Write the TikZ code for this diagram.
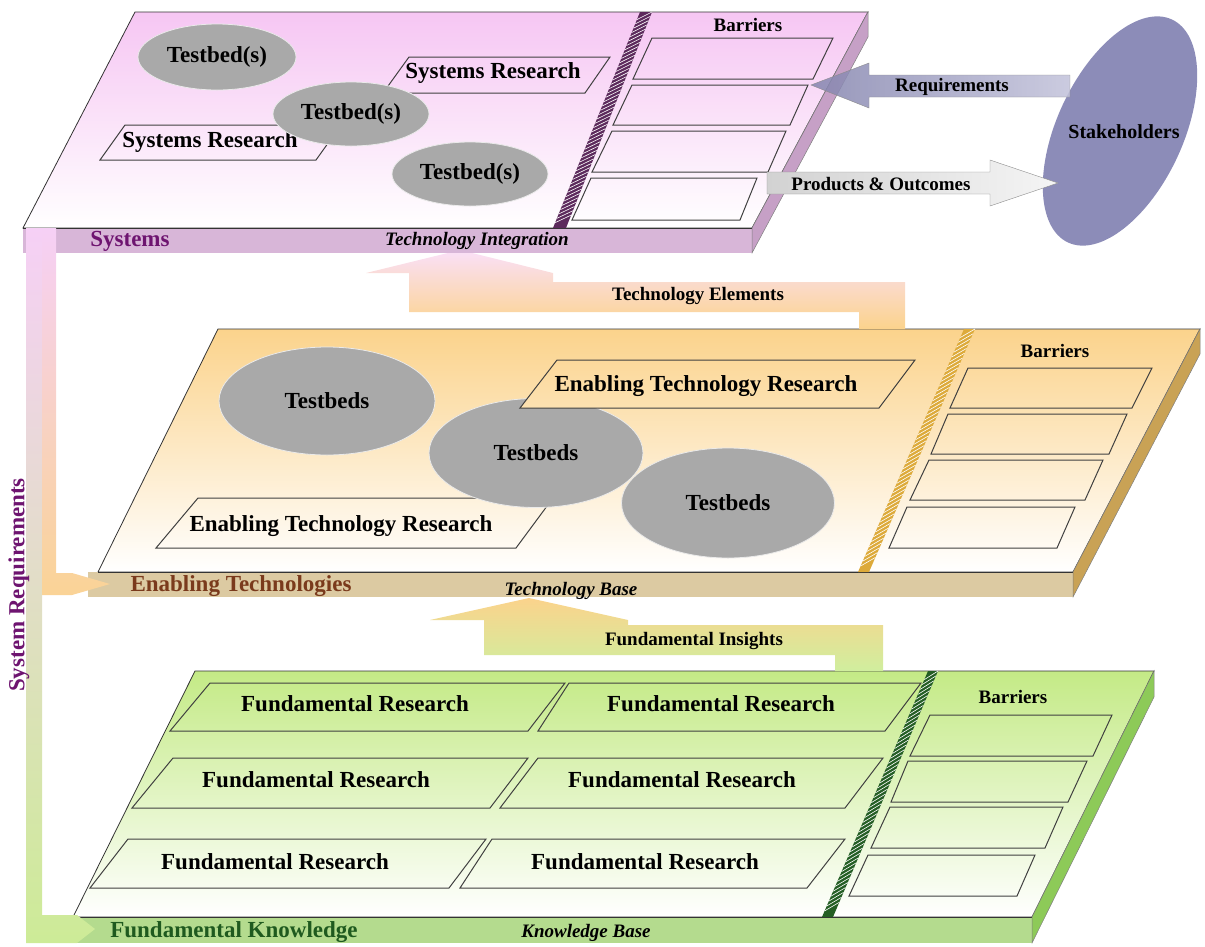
\documentclass[tikz,border=0pt]{standalone}
\usepackage{fontspec}
\setmainfont{Liberation Serif}
\usetikzlibrary{shapes.geometric,calc}

\definecolor{sysTop}{HTML}{F6C6F3}
\definecolor{sysBar}{HTML}{D8B6D8}
\definecolor{sysSide}{HTML}{C6A0C6}
\definecolor{sysHatch}{HTML}{5C2A5C}
\definecolor{sysText}{HTML}{6E1470}
\definecolor{enTop}{HTML}{FBD38C}
\definecolor{enBar}{HTML}{DCCAA2}
\definecolor{enSide}{HTML}{C9A255}
\definecolor{enHatch}{HTML}{DDAA3A}
\definecolor{enText}{HTML}{7A3A1C}
\definecolor{fuTop}{HTML}{C4EA86}
\definecolor{fuBar}{HTML}{B4DB8E}
\definecolor{fuSide}{HTML}{8DCA58}
\definecolor{fuHatch}{HTML}{245E24}
\definecolor{fuText}{HTML}{1F5A1F}
\definecolor{tbGray}{HTML}{A9A9A9}
\definecolor{stakeBlue}{HTML}{8C8CB8}
\definecolor{reqDark}{HTML}{8484AE}
\definecolor{reqLight}{HTML}{C2C2DA}
\definecolor{prodGray}{HTML}{D2D2D2}
\definecolor{srPink}{HTML}{F6D0F6}
\definecolor{srMid}{HTML}{EED8EC}
\definecolor{srGreen}{HTML}{CDEB97}
\definecolor{srOrange}{HTML}{FAD396}

% striped divider between research area and barriers
\newcommand\hatchstrip[5]{%
  \fill[#5] #1 -- #2 -- #4 -- #3 -- cycle;
  \foreach \s [evaluate=\s as \r using \s+0.035] in {0,0.02,...,0.96}
    \draw[white, line width=0.6pt] ($#1!\r!#3$) -- ($#2!\s!#4$);
}

\begin{document}
\begin{tikzpicture}[x=1pt, y=-1pt,
    face/.style = {draw=black!80, line width=0.8pt},
    boxline/.style = {draw=black!75, line width=1pt},
    bigtxt/.style = {font=\fontsize{23}{25}\selectfont\bfseries, inner sep=0pt},
    smalltxt/.style = {font=\fontsize{19}{21}\selectfont\bfseries, inner sep=0pt},
    arrowtxt/.style = {font=\fontsize{19}{21}\selectfont\bfseries, inner sep=0pt},
    basetxt/.style = {font=\fontsize{19}{21}\selectfont\bfseries\itshape, inner sep=0pt},
    layertxt/.style = {font=\fontsize{23}{25}\selectfont\bfseries, inner sep=0pt},
    testbed/.style = {ellipse, fill=tbGray, draw=white!75!tbGray, line width=0.8pt,
                      font=\fontsize{23}{25}\selectfont\bfseries, inner sep=0pt}]
\useasboundingbox (0,0) rectangle (1205,946);

% fundamental knowledge layer
\shade[face, top color=fuTop, bottom color=white] (195,671) -- (1154,671) -- (1032,917) -- (73,917) -- cycle;
\fill[fuBar] (73,917) rectangle (1032,943);
\draw[face] (73,917) -- (1032,917);
\filldraw[fuSide, draw=black!50, line width=0.5pt] (1154,671) -- (1154,697) -- (1032,943) -- (1032,917) -- cycle;
\hatchstrip{(928,671)}{(938,671)}{(822,917)}{(833,917)}{fuHatch}
\foreach \ya/\yb/\a/\b/\c/\d in {715/756/930/1112/1093/910, 761/802/908/1087/1068/891,
                                 807/848/890/1063/1045/871, 855/896/868/1035/1017/849}
  \draw[boxline] (\a,\ya) -- (\b,\ya) -- (\c,\yb) -- (\d,\yb) -- cycle;
\foreach \ya/\yb/\a/\b/\c/\d in {683/731/210/565/528/170, 683/731/569/921/885/538,
                                 758/808/173/528/490/132, 758/808/538/883/845/500,
                                 839/888/128/486/449/90, 839/888/492/845/807/460}
  \draw[boxline] (\a,\ya) -- (\b,\ya) -- (\c,\yb) -- (\d,\yb) -- cycle;
\node[bigtxt] (fr1) at (355,704) {Fundamental Research};
\node[bigtxt] (fr2) at (721,704) {Fundamental Research};
\node[bigtxt] (fr3) at (316,780) {Fundamental Research};
\node[bigtxt] (fr4) at (682,780) {Fundamental Research};
\node[bigtxt] (fr5) at (275,862) {Fundamental Research};
\node[bigtxt] (fr6) at (645,862) {Fundamental Research};
\node[smalltxt] (bar3) at (1013,697) {Barriers};
\node[layertxt, text=fuText] (fk) at (234,932) {Fundamental Knowledge};
\node[basetxt] (kb) at (586,933) {Knowledge Base};

% fundamental insights
\shade[top color=enTop, bottom color=fuTop!80!white] (484,655) -- (484,620) -- (430,620) -- (529,598)
  -- (628,620) -- (628,625) -- (883,625) -- (883,671) -- (835,671) -- (835,655) -- cycle;
\node[arrowtxt] (fi) at (694,641) {Fundamental Insights};

% enabling technologies layer
\shade[face, top color=enTop, bottom color=white] (218,329) -- (1200,329) -- (1073,572) -- (98,572) -- cycle;
\fill[enBar] (88,572) rectangle (1073,597);
\draw[face] (98,572) -- (1073,572);
\filldraw[enSide, draw=black!50, line width=0.5pt] (1200,329) -- (1200,354) -- (1073,597) -- (1073,572) -- cycle;
\hatchstrip{(964,329)}{(975,329)}{(858,572)}{(869,572)}{enHatch}
\foreach \ya/\yb/\a/\b/\c/\d in {368/408/968/1152/1132/950, 414/454/948/1127/1109/931,
                                 460/500/929/1103/1085/910, 507/548/907/1075/1057/889}
  \draw[boxline] (\a,\ya) -- (\b,\ya) -- (\c,\yb) -- (\d,\yb) -- cycle;
\node[smalltxt] (bar2) at (1055,351) {Barriers};
\node[testbed, minimum width=216, minimum height=108] (tb4) at (327,401) {Testbeds};
\draw[boxline] (198,498) -- (553,498) -- (516,548) -- (156,548) -- cycle;
\node[bigtxt] (etr2) at (341,526) {Enabling Technology Research};
\node[testbed, minimum width=214, minimum height=109] (tb5) at (536,453) {Testbeds};
\begin{scope}
  \clip (557,360) -- (915,360) -- (879,408) -- (520,408) -- cycle;
  \shade[top color=enTop, bottom color=white] (218,329) -- (1200,329) -- (1073,572) -- (98,572) -- cycle;
\end{scope}
\draw[boxline] (557,360) -- (915,360) -- (879,408) -- (520,408) -- cycle;
\node[bigtxt] (etr1) at (706,386) {Enabling Technology Research};
\node[testbed, minimum width=213, minimum height=110] (tb6) at (728,503) {Testbeds};
\node[layertxt, text=enText] (et) at (241,586) {Enabling Technologies};
\node[basetxt] (tbase) at (571,591) {Technology Base};

% technology elements
\shade[top color=sysTop!55!white, bottom color=enTop] (409,312) -- (409,273) -- (366,273) -- (460,250)
  -- (553,273) -- (553,282) -- (905,282) -- (905,329) -- (859,329) -- (859,312) -- cycle;
\node[arrowtxt] (te) at (698,296) {Technology Elements};

% systems layer
\shade[face, top color=sysTop, bottom color=white] (135,12) -- (868,12) -- (752,228) -- (23,228) -- cycle;
\fill[sysBar] (23,228) rectangle (752,253);
\draw[face] (23,228) -- (752,228);
\filldraw[sysSide, draw=black!50, line width=0.5pt] (868,12) -- (868,37) -- (752,253) -- (752,228) -- cycle;
\hatchstrip{(640,12)}{(652,12)}{(553,228)}{(566,228)}{sysHatch}
\foreach \ya/\yb/\a/\b/\c/\d in {38/79/652/833/813/633, 85/125/632/808/790/613,
                                 131/172/612/786/768/592, 178/220/591/757/740/572}
  \draw[boxline] (\a,\ya) -- (\b,\ya) -- (\c,\yb) -- (\d,\yb) -- cycle;
\node[smalltxt] (bar1) at (748,25) {Barriers};
\draw[boxline] (409,57) -- (610,57) -- (585,93) -- (383,93) -- cycle;
\node[bigtxt] (sr1) at (493,73) {Systems Research};
\draw[boxline] (125,125) -- (341,125) -- (316,160) -- (100,160) -- cycle;
\node[bigtxt] (sr2) at (210,142) {Systems Research};
\node[testbed, minimum width=158, minimum height=66] (tb1) at (217,57) {Testbed(s)};
\node[testbed, minimum width=156, minimum height=64] (tb2) at (351,114) {Testbed(s)};
\node[testbed, minimum width=156, minimum height=64] (tb3) at (470,174) {Testbed(s)};
\node[layertxt, text=sysText] (sys) at (130,241) {Systems};
\node[basetxt] (ti) at (477,241) {Technology Integration};

% stakeholders and their arrows
\node[ellipse, fill=stakeBlue, minimum width=126, minimum height=246, rotate=-25] (stake) at (1120,131) {};
\node[arrowtxt, font=\fontsize{20}{22}\selectfont\bfseries] (stk) at (1124,132) {Stakeholders};
\shade[left color=reqDark, right color=reqLight, draw=black!45, fill opacity=0.85]
  (811,85) -- (869,63) -- (869,75) -- (1070,75) -- (1070,97) -- (869,97) -- (869,108) -- cycle;
\node[arrowtxt] (req) at (952,87) {Requirements};
\shade[left color=prodGray, right color=white!92!gray, draw=black!45]
  (767,172) -- (990,172) -- (990,160) -- (1058,183) -- (990,206) -- (990,194) -- (767,194) -- cycle;
\node[arrowtxt] (prod) at (881,184) {Products \& Outcomes};

% system requirements
\shade[top color=srPink, middle color=srMid, bottom color=srGreen]
  (26,228) -- (42,228) -- (42,915) -- (77,915) -- (95,929) -- (77,943) -- (26,943) -- cycle;
\shade[top color=srPink, bottom color=srOrange]
  (42,228) -- (56,228) -- (56,573) -- (72,573) -- (110,584) -- (72,595) -- (42,595) -- cycle;
\node[layertxt, text=sysText, rotate=90] (sreq) at (19,585) {System Requirements};
\end{tikzpicture}
\end{document}
